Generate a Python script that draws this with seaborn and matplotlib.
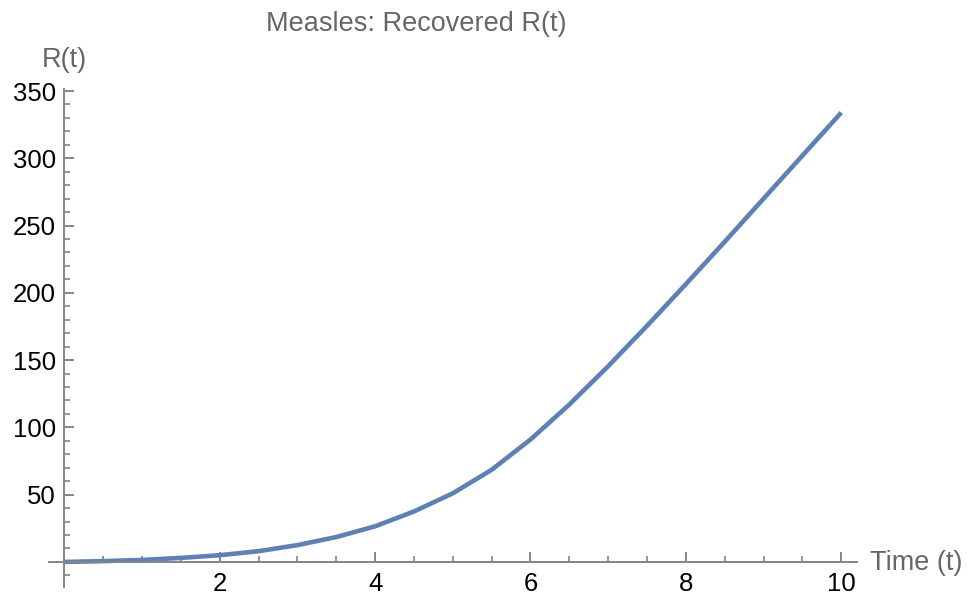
import numpy as np
import pandas as pd
import matplotlib
matplotlib.use("Agg")
import matplotlib.pyplot as plt
from matplotlib.ticker import MultipleLocator
import seaborn as sns

# Data
time_t = [0, 0.5, 1, 1.5, 2, 2.5, 3, 3.5, 4, 4.5, 5, 5.5, 6, 6.5, 7, 7.5, 8, 8.5, 9, 9.5, 10]
recovered = [0, 0.6, 1.5, 3.0, 5.0, 8.0, 12.5, 18.5, 26.5, 37.5, 51, 68.5, 91, 117, 145.5,
             175.5, 206.5, 238, 270, 302, 334]
x_ticks = [2, 4, 6, 8, 10]
y_ticks = [50, 100, 150, 200, 250, 300, 350]
title = "Measles: Recovered R(t)"
x_label = "Time (t)"
y_label = "R(t)"

df = pd.DataFrame({"t": time_t, "R": recovered})

sns.set_style("white")
plt.rcParams["font.family"] = ["Liberation Sans", "DejaVu Sans"]

W, H = 974, 599
fig = plt.figure(figsize=(W / 100, H / 100), dpi=100)
ax = fig.add_axes([48.8 / W, (H - 586.7) / H, 808 / W, (586.7 - 89) / H])

sns.lineplot(data=df, x="t", y="R", ax=ax, color="#5E81B5", linewidth=3.3)
for ln in ax.lines:
    ln.set_solid_joinstyle("round")
    ln.set_solid_capstyle("butt")

ax.set_xlim(-0.2, 10.2)
ax.set_ylim(-18.4, 351.5)

axis_col = "#858585"
ax.spines["top"].set_visible(False)
ax.spines["right"].set_visible(False)
ax.spines["left"].set_position(("data", 0))
ax.spines["bottom"].set_position(("data", 0))
for s in ("left", "bottom"):
    ax.spines[s].set_color(axis_col)
    ax.spines[s].set_linewidth(1.4)

ax.set_xticks(x_ticks)
ax.set_yticks(y_ticks)
ax.xaxis.set_minor_locator(MultipleLocator(0.5))
ax.yaxis.set_minor_locator(MultipleLocator(10))
ax.tick_params(axis="both", which="major", direction="in", length=7, width=1.4,
               color=axis_col, labelsize=18.5, labelcolor="black")
ax.tick_params(axis="both", which="minor", direction="in", length=4, width=1.2,
               color=axis_col)
ax.tick_params(axis="x", which="major", pad=7)
ax.tick_params(axis="y", which="major", pad=6)
ax.tick_params(bottom=True, left=True, which="both")

ax.set_xlabel("")
ax.set_ylabel("")

fig.text(870 / W, 1 - 563 / H, x_label, fontsize=19.5, color="#666666",
         ha="left", va="center")
fig.text(64.5 / W, 1 - 60 / H, y_label, fontsize=19.5, color="#666666",
         ha="center", va="center")
fig.text(416 / W, 1 - 24 / H, title, fontsize=19.5, color="#666666",
         ha="center", va="center")

fig.savefig("out.png", dpi=100)
